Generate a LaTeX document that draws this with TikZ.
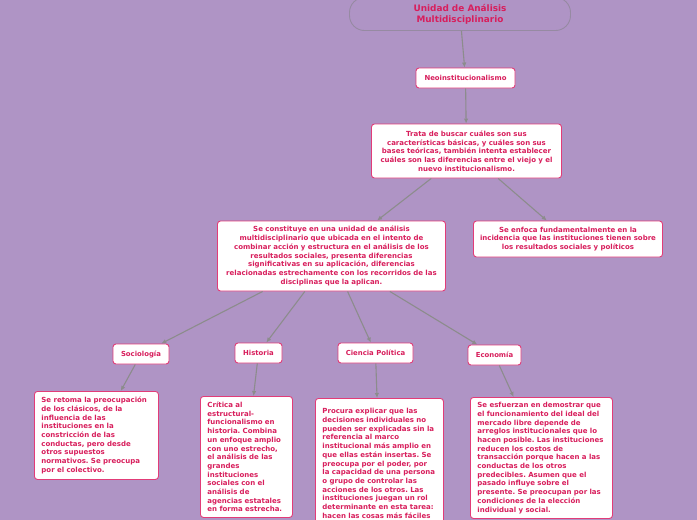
\documentclass[tikz,border=0pt]{standalone}
\usepackage{fontspec}
\setmainfont{DejaVu Sans}
\usetikzlibrary{arrows.meta}
\definecolor{lila}{RGB}{175,148,197}
\definecolor{texto}{RGB}{216,30,92}
\definecolor{borde}{RGB}{226,60,120}
\definecolor{gris}{RGB}{140,140,140}
\definecolor{marco}{RGB}{150,138,162}
\frenchspacing
\begin{document}
\begin{tikzpicture}[x=1pt, y=-1pt,
  caja/.style={draw=borde, line width=0.9pt, fill=white, rounded corners=3pt, text=texto,
    font=\fontsize{7}{8.7}\selectfont\bfseries, inner xsep=4pt, inner ysep=2pt},
  titulo/.style={caja, minimum height=20pt, font=\fontsize{6.9}{8.7}\selectfont\bfseries},
  nota/.style={caja, anchor=north west, align=left, inner xsep=7pt, inner ysep=4pt},
  flecha/.style={draw=gris, line width=1.1pt, -{Latex[length=5pt,width=4.5pt]}}]
%
\clip (0,0) rectangle (697,520);
\fill[lila] (0,0) rectangle (697,520);
% Raiz
\node[draw=marco, line width=0.9pt, fill=lila, rounded corners=15pt, minimum width=221pt,
  minimum height=33pt, text=texto, font=\fontsize{8.9}{11}\selectfont\bfseries, align=center]
  (raiz) at (460,14) {Unidad de Análisis\\Multidisciplinario};
% Neoinstitucionalismo
\node[titulo, minimum width=99pt] (neo) at (465.5,78) {Neoinstitucionalismo};
\node[caja, text width=182pt, align=center, minimum height=54pt] (trata) at (466.5,151)
  {Trata de buscar cuáles son sus\\características básicas, y cuáles son sus\\bases teóricas, también intenta establecer\\cuáles son las diferencias entre el viejo y el\\nuevo institucionalismo.};
% Segundo nivel
\node[caja, text width=220pt, align=center, minimum height=70pt] (unidad) at (331.5,256)
  {Se constituye en una unidad de análisis\\multidisciplinario que ubicada en el intento de\\combinar acción y estructura en el análisis de los\\resultados sociales, presenta diferencias\\significativas en su aplicación, diferencias\\relacionadas estrechamente con los recorridos de las\\disciplinas que la aplican.};
\node[caja, text width=181pt, align=center, minimum height=36pt] (enfoca) at (568,239)
  {Se enfoca fundamentalmente en la\\incidencia que las instituciones tienen sobre\\los resultados sociales y políticos};
% Disciplinas
\node[titulo, minimum width=56pt] (socio) at (141,354) {Sociología};
\node[titulo, minimum width=47pt] (histo) at (258.5,353) {Historia};
\node[titulo, minimum width=75pt] (cien) at (375.5,353) {Ciencia Política};
\node[titulo, minimum width=53pt] (econ) at (494.5,355) {Economía};
% Notas
\node[nota, text width=110pt, minimum height=88pt] (nsocio) at (34,391)
  {Se retoma la preocupación\\de los clásicos, de la\\influencia de las\\instituciones en la\\constricción de las\\conductas, pero desde\\otros supuestos\\normativos. Se preocupa\\por el colectivo.};
\node[nota, text width=78pt, minimum height=121pt] (nhisto) at (200,396)
  {Crítica al\\estructural-\\funcionalismo en\\historia. Combina\\un enfoque amplio\\con uno estrecho,\\el análisis de las\\grandes\\instituciones\\sociales con el\\análisis de\\agencias estatales\\en forma estrecha.};
\node[nota, text width=114pt, minimum height=140pt] (ncien) at (315,398)
  {Procura explicar que las\\decisiones individuales no\\pueden ser explicadas sin la\\referencia al marco\\institucional más amplio en\\que ellas están insertas. Se\\preocupa por el poder, por\\la capacidad de una persona\\o grupo de controlar las\\acciones de los otros. Las\\instituciones juegan un rol\\determinante en esta tarea:\\hacen las cosas más fáciles\\para algunos y más difíciles};
\node[nota, text width=128pt, minimum height=121pt] (necon) at (470,397)
  {Se esfuerzan en demostrar que\\el funcionamiento del ideal del\\mercado libre depende de\\arreglos institucionales que lo\\hacen posible. Las instituciones\\reducen los costos de\\transacción porque hacen a las\\conductas de los otros\\predecibles. Asumen que el\\pasado influye sobre el\\presente. Se preocupan por las\\condiciones de la elección\\individual y social.};
% Flechas
\draw[flecha] (raiz) -- (neo);
\draw[flecha] (neo) -- (trata);
\draw[flecha] (trata) -- (unidad);
\draw[flecha] (trata) -- (enfoca);
\draw[flecha] (unidad) -- (socio);
\draw[flecha] (unidad) -- (histo);
\draw[flecha] (unidad) -- (cien);
\draw[flecha] (unidad) -- (econ);
\draw[flecha] (socio) -- (nsocio);
\draw[flecha] (histo) -- (nhisto);
\draw[flecha] (cien) -- (ncien);
\draw[flecha] (econ) -- (necon);
\end{tikzpicture}
\end{document}
